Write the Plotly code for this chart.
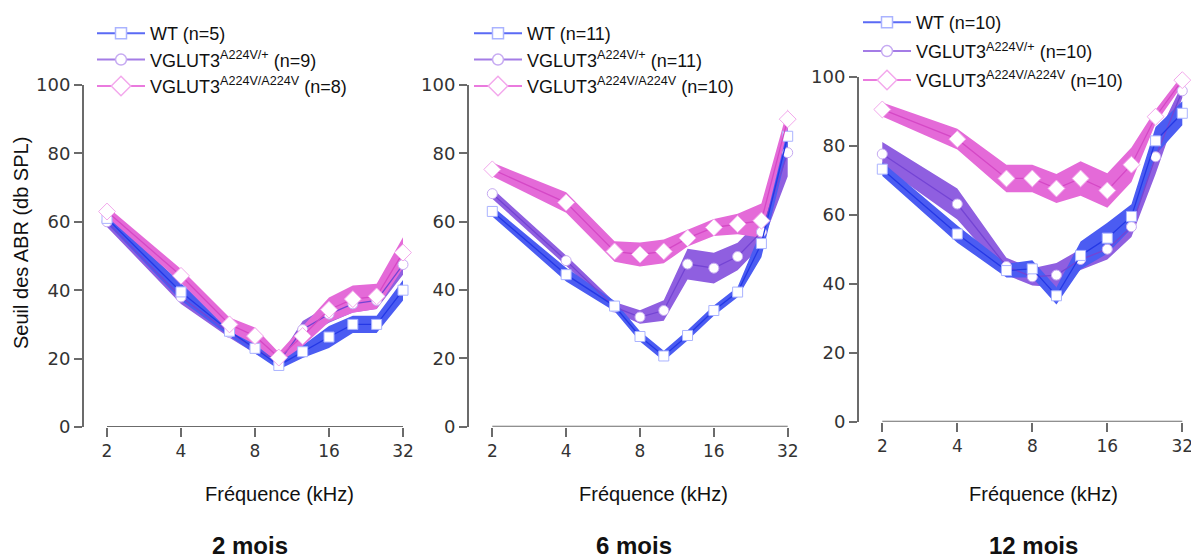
import math
import plotly.graph_objects as go

# ---------------- data ----------------
freqs = [2, 4, 6.3, 8, 10, 12.5, 16, 20, 25, 32]
x_ticks = [2, 4, 8, 16, 32]
y_ticks = [0, 20, 40, 60, 80, 100]

wt_2 = [61, 39.5, 28, 23, 18, 22, 26.3, 30, 30, 40]
wt_2_sem = [1.5, 2.5, 1.5, 1.5, 1.2, 1.8, 3.2, 2.5, 2.5, 3]
het_2 = [60, 38, 27.6, 23, 19, 28.5, 33, 36, 37, 47.5]
het_2_sem = [1.5, 2, 1.5, 1.5, 1.2, 2.5, 2.5, 2.5, 2.5, 3]
hom_2 = [63, 44.2, 30, 26.6, 20.3, 26.6, 34.3, 37.4, 38.2, 51]
hom_2_sem = [1.5, 2, 2, 2.5, 1.5, 3, 3.6, 4, 3.7, 4.5]

wt_6 = [63, 44.5, 35.3, 26.4, 20.7, 26.7, 34, 39.4, 53.6, 85]
wt_6_sem = [1.5, 2, 1.5, 1.5, 1.5, 1.5, 1.5, 1.5, 4, 4]
het_6 = [68.2, 48.6, 35, 32.1, 34, 47.6, 46.4, 49.8, 57, 80.2]
het_6_sem = [1.5, 1.5, 1.5, 2, 3, 4.5, 4.5, 4, 4, 7]
hom_6 = [75.3, 65.6, 51.3, 50.4, 51.3, 55.2, 58.3, 59.3, 60.3, 90]
hom_6_sem = [2, 3, 3, 3.5, 3.5, 2.5, 2.5, 3, 5, 3]

wt_12 = [73.2, 54.4, 43.8, 44.3, 36.5, 48.2, 53.2, 59.5, 81.4, 89.4]
wt_12_sem = [2, 2.5, 2, 2.5, 2.5, 4, 4.5, 3.5, 4, 3.5]
het_12 = [77.6, 63.1, 45, 42, 42.5, 47, 50, 56.5, 76.8, 95.9]
het_12_sem = [3.5, 4.5, 2.5, 2.5, 3.5, 3, 3, 3, 5, 2]
hom_12 = [90.5, 81.9, 70.5, 70.5, 67.6, 70.5, 67, 74.5, 88.4, 99]
hom_12_sem = [2, 3, 4, 4, 4.2, 5, 5, 5, 2, 1.5]

n_wt = [5, 11, 10]
n_het = [9, 11, 10]
n_hom = [8, 10, 10]
panel_titles = ["2 mois", "6 mois", "12 mois"]
x_title = "Fréquence (kHz)"
y_title = "Seuil des ABR (db SPL)"

# ---------------- layout helpers ----------------
# the page body has an 8 px margin, so the figure is drawn from (8, 8)
OFF = 8
W, H = 1199 - OFF, 560 - OFF


def fx(px):
    return (px - OFF) / W


def fy(py):
    return 1 - (py - OFF) / H


styles = {
    "wt": dict(band="#4b5cf2", line="#2438e6", pale="#aab3ff", leg="#5a6af5",
               symbol="square", size=10, legsize=11),
    "het": dict(band="#8f5fe0", line="#7444d4", pale="#c6aaf2", leg="#a47ce6",
                symbol="circle", size=10, legsize=11),
    "hom": dict(band="#e46ad8", line="#d548c6", pale="#f3a8ec", leg="#ea7ade",
                symbol="diamond", size=13, legsize=15),
}

# panel geometry in screen pixels
panels = [
    dict(l=84, r=412, p2=107, p32=403, t=85, b=427,
         data=dict(wt=(wt_2, wt_2_sem), het=(het_2, het_2_sem), hom=(hom_2, hom_2_sem)),
         leg=(92, 15), gap=0, xt=279, tt=250),
    dict(l=469, r=797, p2=492.3, p32=787.7, t=85, b=426.7,
         data=dict(wt=(wt_6, wt_6_sem), het=(het_6, het_6_sem), hom=(hom_6, hom_6_sem)),
         leg=(469, 15), gap=0, xt=653, tt=634),
    dict(l=859, r=1192, p2=882.3, p32=1182.3, t=76.7, b=421.7,
         data=dict(wt=(wt_12, wt_12_sem), het=(het_12, het_12_sem), hom=(hom_12, hom_12_sem)),
         leg=(858, 4), gap=2.5, xt=1043, tt=1033),
]

fig = go.Figure()
L2 = math.log10(2)
shapes = []
annotations = []
layout = {}

for i, p in enumerate(panels):
    sfx = "" if i == 0 else str(i + 1)
    xa, ya = "x" + sfx, "y" + sfx
    legname = "legend" + sfx
    per_oct = (p["p32"] - p["p2"]) / 4.0
    lo = L2 - (p["p2"] - p["l"]) / per_oct * L2
    hi = math.log10(32) + (p["r"] - p["p32"]) / per_oct * L2

    for key in ["het", "wt", "hom"]:
        vals, sem = p["data"][key]
        st = styles[key]
        up = [v + s for v, s in zip(vals, sem)]
        dn = [v - s for v, s in zip(vals, sem)]
        fig.add_trace(go.Scatter(
            x=freqs + freqs[::-1], y=up + dn[::-1], fill="toself",
            fillcolor=st["band"], mode="lines", line=dict(width=0, color=st["band"]),
            xaxis=xa, yaxis=ya, showlegend=False, hoverinfo="skip"))
    for key in ["het", "wt", "hom"]:
        vals, sem = p["data"][key]
        st = styles[key]
        fig.add_trace(go.Scatter(
            x=freqs, y=vals, mode="lines+markers",
            line=dict(color=st["line"], width=1.3),
            marker=dict(symbol=st["symbol"], size=st["size"], color="white",
                        line=dict(color=st["pale"], width=1)),
            cliponaxis=False, xaxis=xa, yaxis=ya, showlegend=False))
    names = {
        "wt": f"WT (n={n_wt[i]})",
        "het": f"VGLUT3<sup>A224V/+</sup> (n={n_het[i]})",
        "hom": f"VGLUT3<sup>A224V/A224V</sup> (n={n_hom[i]})",
    }
    for key in ["wt", "het", "hom"]:
        st = styles[key]
        fig.add_trace(go.Scatter(
            x=[None], y=[None], mode="lines+markers", name=names[key],
            line=dict(color=st["leg"], width=2),
            marker=dict(symbol=st["symbol"], size=st["legsize"], color="white",
                        line=dict(color=st["pale"], width=1.5)),
            xaxis=xa, yaxis=ya, legend=legname, legendgroup=key + sfx))

    layout["xaxis" + sfx] = dict(
        type="log", range=[lo, hi], domain=[fx(p["l"]), fx(p["r"])],
        anchor=ya, tickvals=x_ticks, ticktext=[str(t) for t in x_ticks],
        showline=False, showgrid=False, zeroline=False, automargin=False,
        ticks="outside", ticklen=9, tickwidth=2, tickcolor="#6b6b6b",
        tickfont=dict(family="DejaVu Sans", size=17, color="#333333"))
    layout["yaxis" + sfx] = dict(
        range=[0, 100], domain=[fy(p["b"]), fy(p["t"])],
        anchor=xa, tickvals=y_ticks, showline=True, linecolor="#6b6b6b",
        linewidth=2, showgrid=False, zeroline=False, automargin=False,
        ticks="outside", ticklen=8, tickwidth=2, tickcolor="#6b6b6b",
        tickfont=dict(family="DejaVu Sans", size=18, color="#333333"))
    layout[legname] = dict(
        x=fx(p["leg"][0]), y=fy(p["leg"][1]), xanchor="left", yanchor="top",
        bgcolor="rgba(0,0,0,0)", borderwidth=0, itemwidth=48,
        font=dict(family="Liberation Sans", size=18, color="#111111"),
        traceorder="grouped", tracegroupgap=p["gap"])

    shapes.append(dict(type="line", xref=xa, yref=ya, x0=2, x1=32, y0=0, y1=0,
                       line=dict(color="#6b6b6b", width=2), layer="above"))
    annotations.append(dict(text=x_title, xref="paper", yref="paper",
                            x=fx(p["xt"]), y=fy(494), showarrow=False,
                            xanchor="center", yanchor="middle",
                            font=dict(family="Liberation Sans", size=20, color="#111111")))
    annotations.append(dict(text="<b>" + panel_titles[i] + "</b>", xref="paper", yref="paper",
                            x=fx(p["tt"]), y=fy(545), showarrow=False,
                            xanchor="center", yanchor="middle",
                            font=dict(family="Liberation Sans", size=24, color="#111111")))

annotations.append(dict(text=y_title, xref="paper", yref="paper", x=fx(21), y=fy(243),
                        showarrow=False, textangle=-90, xanchor="center", yanchor="middle",
                        font=dict(family="Liberation Sans", size=20, color="#111111")))

fig.update_layout(
    width=W, height=H, margin=dict(l=0, r=0, t=0, b=0, autoexpand=False),
    paper_bgcolor="white", plot_bgcolor="white",
    shapes=shapes, annotations=annotations, **layout)

fig.write_html("out.html")
